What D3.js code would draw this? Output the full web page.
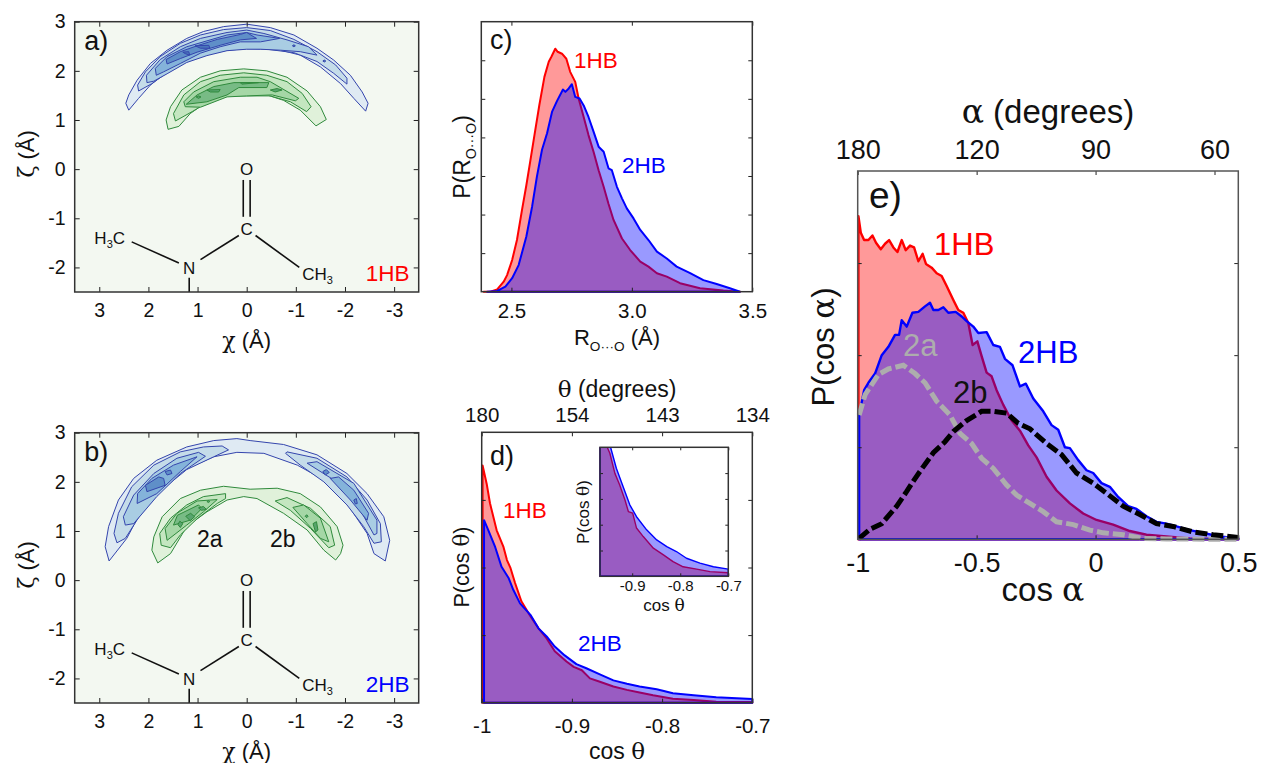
<!DOCTYPE html>
<html>
<head>
<meta charset="utf-8">
<script src="https://cdnjs.cloudflare.com/ajax/libs/d3/7.8.5/d3.min.js"></script>
<style>
body { margin: 0; background: #fff; }
svg { display: block; }
text { font-family: "Liberation Sans", Arial, sans-serif; fill: #111; }
.gr { font-family: "DejaVu Serif", "Liberation Serif", serif; }
</style>
</head>
<body>
<svg id="chart" width="1262" height="763"></svg>
<script>
// contour levels, [chi, zeta] in angstrom, outer level first
const a1Blue1 = [[2.40,1.20],[2.46,1.34],[2.40,1.51],[2.23,1.81],[1.96,2.15],[1.62,2.42],[1.22,2.66],[.88,2.80],[.47,2.90],[0,2.95],[-.48,2.88],[-.96,2.73],[-1.43,2.46],[-1.77,2.22],[-2.11,1.91],[-2.35,1.57],[-2.47,1.34],[-2.42,1.18],[-2.18,1.44],[-1.91,1.74],[-1.50,2.08],[-1.09,2.32],[-.69,2.42],[-.28,2.47],[0,2.47],[.40,2.44],[.81,2.35],[1.22,2.22],[1.62,1.98],[1.96,1.71],[2.20,1.44]];
const a1Blue2 = [[2.20,1.59],[2.22,1.71],[2.06,1.98],[1.76,2.29],[1.35,2.56],[.94,2.73],[.47,2.84],[0,2.88],[-.48,2.82],[-.96,2.64],[-1.43,2.39],[-1.81,2.12],[-2.04,1.85],[-2.04,1.73],[-1.77,1.95],[-1.43,2.19],[-.96,2.37],[-.41,2.44],[0,2.45],[.40,2.42],[.81,2.33],[1.22,2.19],[1.62,1.96],[1.93,1.74]];
const a1Blue3 = [[2.03,1.76],[2.04,1.91],[1.76,2.23],[1.35,2.49],[.94,2.66],[.40,2.78],[0,2.83],[-.35,2.76],[-.82,2.63],[-1.26,2.49],[-1.43,2.32],[-1.09,2.39],[-.69,2.42],[-.28,2.44],[0,2.44],[.40,2.41],[.81,2.31],[1.22,2.17],[1.62,1.94],[1.89,1.79]];
const a1Blue4 = [[1.84,1.91],[1.86,2.05],[1.62,2.29],[1.22,2.49],[.81,2.61],[.40,2.73],[0,2.78],[-.21,2.73],[-.67,2.66],[-.28,2.59],[.13,2.59],[.54,2.49],[.94,2.36],[1.35,2.15],[1.69,1.98]];
const a1Blue5 = [[1.62,2.14],[1.64,2.23],[1.35,2.39],[1.01,2.51],[.60,2.64],[.13,2.74],[0,2.78],[-.20,2.66],[.13,2.63],[.54,2.52],[1.01,2.38],[1.35,2.25]];
const a1Blue6a = [[1.30,2.38],[1.18,2.39],[1.16,2.32],[1.25,2.35]];
const a1Blue6b = [[1.05,2.51],[.77,2.52],[.75,2.46],[.94,2.46]];
const a1Blue6c = [[-.93,2.51],[-.96,2.53],[-.99,2.51],[-.96,2.49]];
const a1Blue6d = [[-1.55,2.20],[-1.58,2.22],[-1.61,2.20],[-1.58,2.18]];

const a1Green1 = [[1.60,.81],[1.64,1.00],[1.55,1.27],[1.32,1.61],[.94,1.87],[.54,2.00],[.06,2.04],[-.41,2.00],[-.82,1.87],[-1.23,1.59],[-1.50,1.27],[-1.62,1.01],[-1.41,.88],[-1.09,1.20],[-.75,1.40],[-.41,1.51],[0,1.51],[.40,1.51],[.81,1.37],[1.15,1.13],[1.38,.87]];
const a1Green2 = [[1.45,.98],[1.49,1.13],[1.28,1.51],[.94,1.78],[.54,1.91],[.06,1.96],[-.41,1.91],[-.82,1.78],[-1.13,1.54],[-1.31,1.27],[-1.22,1.17],[-.89,1.37],[-.48,1.49],[0,1.49],[.40,1.49],[.81,1.35],[1.11,1.17]];
const a1Green3 = [[1.25,1.27],[1.28,1.37],[1.08,1.57],[.67,1.78],[.13,1.87],[-.21,1.87],[-.48,1.78],[-1.06,1.44],[-.99,1.39],[-.52,1.51],[0,1.49],[.40,1.47],[.94,1.26]];
const a1Green4 = [[1.23,1.32],[1.01,1.51],[.67,1.68],[.26,1.76],[-.45,1.76],[-.41,1.66],[.16,1.66],[.40,1.51],[.81,1.37]];
const a1Green5a = [[1.03,1.47],[.98,1.49],[.93,1.47],[.98,1.44]];
const a1Green5b = [[.81,1.61],[.54,1.62],[.57,1.57],[.74,1.57]];
const a1Green5c = [[.13,1.76],[-.24,1.76],[.10,1.73]];
const a1Green5d = [[-.48,1.61],[-.62,1.64],[-.72,1.61],[-.58,1.57]];

const b2Blue1 = [[2.80,.39],[2.88,.68],[2.81,1.09],[2.61,1.63],[2.30,2.07],[1.83,2.44],[1.22,2.71],[.67,2.84],[.20,2.88],[-.07,2.84],[-.75,2.76],[-1.43,2.55],[-2.04,2.17],[-2.45,1.76],[-2.79,1.29],[-2.91,.81],[-2.82,.39],[-2.59,.54],[-2.45,.95],[-2.04,1.56],[-1.57,2.04],[-1.03,2.34],[-.35,2.58],[.20,2.60],[.67,2.51],[1.22,2.27],[1.76,1.83],[2.17,1.36],[2.44,.85]];
const b2Blue2L = [[2.64,.76],[2.70,.95],[2.61,1.36],[2.34,1.90],[1.89,2.34],[1.35,2.61],[.88,2.71],[.50,2.73],[.37,2.65],[.67,2.51],[1.22,2.25],[1.76,1.81],[2.17,1.32],[2.47,.85]];
const b2Blue2R = [[-.79,2.58],[-.82,2.61],[-1.43,2.48],[-2.04,2.10],[-2.45,1.63],[-2.72,1.15],[-2.74,.78],[-2.59,.75],[-2.38,1.09],[-2.04,1.53],[-1.57,2.00],[-1.09,2.34]];
const b2Blue3L = [[2.47,1.12],[2.51,1.29],[2.30,1.73],[1.89,2.17],[1.42,2.48],[.98,2.60],[.84,2.52],[1.35,2.17],[1.83,1.70],[2.30,1.15]];
const b2Blue3R = [[-1.23,2.38],[-1.43,2.41],[-2.18,1.97],[-2.65,1.22],[-2.65,.95],[-2.59,.92],[-2.31,1.43],[-1.77,2.04]];
const b2Blue4L = [[2.23,1.56],[2.22,1.76],[1.93,2.07],[1.49,2.34],[1.01,2.51],[1.35,2.21],[1.83,1.76]];
const b2Blue4R = [[-1.70,2.07],[-1.87,2.10],[-2.18,1.83],[-2.48,1.36],[-2.45,1.22],[-2.11,1.63]];
const b2Blue5a = [[2.03,1.80],[2.06,1.93],[1.79,2.10],[1.69,2.07],[1.66,1.93]];
const b2Blue5b = [[1.66,2.21],[1.55,2.24],[1.52,2.17],[1.62,2.14]];
const b2Blue5c = [[-1.55,2.21],[-1.62,2.25],[-1.68,2.19],[-1.60,2.14]];
const b2Blue5d = [[-2.18,1.63],[-2.23,1.66],[-2.25,1.56],[-2.21,1.55]];

const b2Green1 = [[1.81,.35],[1.93,.61],[1.89,.88],[1.72,1.29],[1.35,1.66],[.94,1.83],[.47,1.91],[-.07,1.85],[-.62,1.87],[-1.09,1.76],[-1.50,1.49],[-1.84,1.09],[-1.96,.71],[-1.91,.54],[-1.81,.41],[-1.57,.61],[-1.23,1.02],[-.75,1.36],[-.21,1.66],[.06,1.70],[.40,1.63],[.81,1.39],[1.22,1.09],[1.55,.54]];
const b2Green2L = [[1.74,.71],[1.77,.95],[1.55,1.26],[1.22,1.53],[.88,1.70],[.43,1.76],[.43,1.66],[.60,1.56],[1.01,1.25],[1.35,.92],[1.55,.66]];
const b2Green2R = [[-.58,1.61],[-.82,1.68],[-1.30,1.46],[-1.70,1.09],[-1.79,.71],[-1.67,.66],[-1.30,1.05],[-.89,1.42]];
const b2Green3L = [[1.62,.81],[1.66,1.05],[1.42,1.36],[1.01,1.61],[.60,1.64],[.88,1.39],[1.22,1.12]];
const b2Green3R = [[-.94,1.48],[-1.16,1.53],[-1.50,1.26],[-1.67,.78],[-1.50,.85],[-1.23,1.15]];
const b2Green4L = [[1.49,1.12],[1.41,1.32],[.98,1.53],[.91,1.46],[1.15,1.22]];
const b2Green5a = [[1.40,1.13],[1.36,1.20],[1.30,1.15],[1.35,1.07]];
const b2Green5b = [[1.24,1.30],[1.14,1.36],[1.06,1.29],[1.15,1.21]];
const b2Green5c = [[.98,1.47],[.88,1.50],[.82,1.44],[.92,1.42]];
const b2Green5d = [[.81,1.60],[.78,1.62],[.75,1.60],[.78,1.58]];
const b2Green5e = [[-1.19,1.30],[-1.22,1.33],[-1.25,1.30],[-1.22,1.27]];
const b2Green5f = [[-1.35,1.15],[-1.42,1.19],[-1.45,1.02],[-1.40,.98]];

// N-methylacetamide drawing, same in both contour panels
const bondSegments = [[[.07,-.22],[.07,-.97]],[[-.07,-.22],[-.07,-.97]],[[2.34,-1.48],[1.38,-1.91]],[[.94,-1.84],[.16,-1.35]],[[-.18,-1.35],[-1.07,-2.0]],[[1.17,-2.21],[1.17,-2.5]]];

// panel c, R(O...O) distributions
const rooR1HB = [2.385,2.413,2.441,2.468,2.482,2.503,2.523,2.544,2.562,2.579,2.599,2.616,2.637,2.655,2.666,2.682,2.692,2.710,2.728,2.744,2.765,2.779,2.800,2.820,2.841,2.862,2.883,2.903,2.924,2.959,2.993,3.035,3.069,3.104,3.145,3.200,3.283,3.380,3.449];
const rooP1HB = [0,0,.06,.26,.43,.82,1.34,2.12,2.76,3.41,4.19,4.84,5.57,5.96,6.09,6.30,6.22,6.17,6.04,5.70,5.44,5.01,4.53,4.06,3.63,3.15,2.72,2.28,1.86,1.38,1.08,.78,.65,.48,.39,.22,.09,.03,0];
const rooR2HB = [2.399,2.441,2.475,2.503,2.530,2.562,2.586,2.606,2.627,2.648,2.669,2.689,2.714,2.724,2.738,2.751,2.765,2.783,2.800,2.820,2.841,2.862,2.883,2.903,2.917,2.938,2.959,2.979,3.007,3.035,3.069,3.104,3.145,3.186,3.242,3.297,3.352,3.407,3.449];
const rooP2HB = [0,.02,.13,.35,.69,1.43,2.21,2.99,3.68,4.11,4.67,4.94,5.24,5.18,5.27,5.38,5.05,5.01,4.83,4.53,4.15,3.76,3.63,3.20,3.15,2.72,2.42,2.16,1.90,1.60,1.34,1.04,.86,.65,.48,.30,.20,.09,0];
const rooTicks = [2.5, 3.0, 3.5];

// panel d, cos theta distributions
const thetaX1HB = [-.999,-.9945,-.9908,-.9834,-.976,-.972,-.968,-.963,-.956,-.946,-.937,-.928,-.919,-.906,-.898,-.889,-.880,-.869,-.854,-.839,-.825,-.810,-.788,-.765,-.740,-.700];
const thetaP1HB = [3.51,3.24,2.95,2.55,2.31,2.11,1.99,1.77,1.50,1.28,1.10,.95,.76,.61,.53,.48,.36,.31,.24,.19,.15,.11,.06,.04,.015,.01];
const thetaX2HB = [-.9974,-.9926,-.985,-.978,-.970,-.965,-.9575,-.946,-.937,-.928,-.919,-.908,-.895,-.884,-.869,-.854,-.839,-.825,-.806,-.788,-.765,-.740,-.700];
const thetaP2HB = [2.70,2.55,2.30,2.01,1.84,1.67,1.47,1.30,1.10,.98,.83,.70,.57,.51,.42,.33,.28,.24,.20,.14,.11,.08,.055];
const thetaTicks = [-1, -.9, -.8, -.7];
const thetaTickLabels = ['-1', '-0.9', '-0.8', '-0.7'];
const thetaDegLabels = ['180', '154', '143', '134'];

// inset of panel d
const insetX1HB = [-.967,-.952,-.9465,-.936,-.926,-.915,-.908,-.899,-.891,-.877,-.856,-.835,-.815,-.794,-.766,-.738,-.700];
const insetP1HB = [7,5,4.77,3.99,3.54,2.96,2.51,2.45,1.87,1.54,1.09,.83,.57,.37,.28,.18,.14];
const insetX2HB = [-.967,-.945,-.933,-.919,-.905,-.891,-.870,-.849,-.828,-.808,-.787,-.759,-.731,-.700];
const insetP2HB = [7,5,4.19,3.48,2.77,2.31,1.80,1.41,1.15,.96,.70,.51,.37,.28];
const insetTicks = [-.9, -.8, -.7];
const insetTickLabels = ['-0.9', '-0.8', '-0.7'];

// panel e, cos alpha distributions
const alphaX1HB = [-.997,-.987,-.973,-.955,-.938,-.923,-.903,-.885,-.868,-.850,-.833,-.815,-.798,-.780,-.763,-.745,-.727,-.713,-.689,-.668,-.647,-.626,-.598,-.577,-.556,-.535,-.517,-.497,-.479,-.458,-.437,-.416,-.388,-.353,-.318,-.283,-.248,-.206,-.164,-.108,-.052,.004,.074,.144,.214,.298,.396,.6];
const alphaP1HB = [3.51,3.33,3.25,3.25,3.30,3.22,3.15,3.21,3.25,3.17,3.12,3.25,3.14,3.19,3.17,3.02,3.10,2.99,2.95,2.89,2.86,2.75,2.60,2.49,2.46,2.35,2.11,2.15,1.99,1.81,1.77,1.62,1.46,1.29,1.18,1.02,.89,.68,.53,.39,.28,.21,.16,.09,.05,.03,.01,0];
const alphaX2HB = [-.994,-.973,-.955,-.927,-.899,-.871,-.843,-.826,-.815,-.794,-.770,-.745,-.717,-.696,-.682,-.661,-.640,-.619,-.588,-.563,-.542,-.514,-.493,-.458,-.430,-.402,-.381,-.349,-.318,-.293,-.262,-.220,-.185,-.157,-.129,-.108,-.073,-.038,-.010,.025,.060,.095,.137,.172,.214,.256,.298,.340,.396,.452,.522,.6];
const alphaP2HB = [1.35,1.62,1.70,1.80,2.00,2.09,2.22,2.22,2.38,2.31,2.46,2.47,2.53,2.57,2.49,2.49,2.52,2.46,2.47,2.42,2.37,2.31,2.24,2.25,2.11,2.09,1.96,1.89,1.66,1.69,1.53,1.39,1.24,1.19,1.00,.99,.86,.75,.72,.61,.57,.46,.36,.33,.25,.19,.17,.14,.10,.07,.03,.01];
const alphaX2a = [-.994,-.969,-.941,-.913,-.871,-.808,-.759,-.717,-.668,-.612,-.570,-.521,-.479,-.430,-.374,-.332,-.276,-.220,-.164,-.094,-.024,.032,.116,.200,.298,.6];
const alphaP2a = [1.35,1.57,1.68,1.79,1.85,1.89,1.80,1.70,1.50,1.35,1.15,1.04,.88,.77,.59,.48,.39,.30,.19,.16,.10,.07,.05,.01,.004,0];
const alphaX2b = [-.994,-.948,-.899,-.836,-.794,-.759,-.724,-.682,-.633,-.598,-.542,-.479,-.430,-.374,-.325,-.276,-.206,-.143,-.080,-.010,.046,.116,.186,.256,.326,.410,.494,.6];
const alphaP2b = [.01,.11,.17,.36,.52,.66,.79,.94,1.06,1.17,1.29,1.39,1.39,1.37,1.26,1.20,1.04,.92,.72,.61,.50,.36,.27,.17,.14,.08,.05,.02];
const alphaTicks = [-1, -.5, 0, .6];
const alphaTickLabels = ['-1', '-0.5', '0', '0.5'];
const alphaDegTicks = [-1, -.5, 0, .5];
const alphaDegLabels = ['180', '120', '90', '60'];

const blueLevels = ['#dfeaf3', '#c5dce9', '#a9cde3', '#84b3da', '#5f8fc8', '#4a74bb'];
const greenLevels = ['#e0f1da', '#c4e6c0', '#a5d7a6', '#78bb85', '#58a46e', '#3f8c58'];
const redLine = '#ff0000', blueLine = '#0000ff';

const svg = d3.select('#chart');
let clipCount = 0;

function addText(parent, x, y, str, size, opts) {
    opts = opts || {};
    return parent.append('text')
        .attr('x', x).attr('y', y)
        .attr('font-size', size)
        .attr('text-anchor', opts.anchor || 'start')
        .style('fill', opts.color || '#111')
        .text(str);
}

// rotated or plain label made of pieces, greek glyphs use the serif face
function richLabel(cx, cy, pieces, size, rotate) {
    const t = svg.append('text')
        .attr('text-anchor', 'middle')
        .attr('font-size', size)
        .attr('transform', `translate(${cx},${cy})` + (rotate ? ' rotate(-90)' : ''));
    pieces.forEach(p => {
        const s = t.append('tspan').text(p.s);
        if (p.greek) s.attr('class', 'gr');
        if (p.sub) s.attr('font-size', size * 0.62).attr('dy', size * 0.25);
        if (p.up) s.attr('dy', -size * 0.25);
    });
    return t;
}

// frame, ticks on all sides, with optional labels
function drawFrame(box, x, y, o) {
    const g = svg.append('g');
    const w = box.x1 - box.x0, h = box.y1 - box.y0;
    const tick = o.tick || 4;
    const plain = d => String(d);
    const styleAxis = sel => {
        sel.select('.domain').remove();
        sel.selectAll('line').attr('stroke', '#222').attr('stroke-width', 1);
        sel.selectAll('text').style('font-family', '"Liberation Sans", Arial, sans-serif').attr('font-size', o.size).style('fill', '#111');
    };
    const bottom = d3.axisBottom(x).tickValues(o.xTicks).tickSizeInner(-tick).tickSizeOuter(0).tickPadding(o.padBottom).tickFormat(plain);
    if (o.xLabels) bottom.tickFormat((d, i) => o.xLabels[i]);
    g.append('g').attr('transform', `translate(0,${box.y1})`).call(bottom).call(styleAxis);
    const top = d3.axisTop(o.topX || x).tickValues(o.topTicks || o.xTicks).tickSizeInner(-tick).tickSizeOuter(0).tickPadding(o.padTop || 10);
    if (o.topLabels) top.tickFormat((d, i) => o.topLabels[i]); else top.tickFormat('');
    g.append('g').attr('transform', `translate(0,${box.y0})`).call(top).call(styleAxis);
    const left = d3.axisLeft(y).tickValues(o.yTicks).tickSizeInner(-tick).tickSizeOuter(0).tickPadding(9);
    left.tickFormat(o.yLabels ? plain : '');
    g.append('g').attr('transform', `translate(${box.x0},0)`).call(left).call(styleAxis);
    const right = d3.axisRight(y).tickValues(o.yTicks).tickSizeInner(-tick).tickSizeOuter(0).tickFormat('');
    g.append('g').attr('transform', `translate(${box.x1},0)`).call(right).call(styleAxis);
    g.append('rect')
        .attr('x', box.x0).attr('y', box.y0)
        .attr('width', w).attr('height', h)
        .attr('fill', 'none')
        .attr('stroke', o.frame || '#333')
        .attr('stroke-width', 1.5);
}

function contourPanel(box, blues, greens, tag, tagColor, letter) {
    const x = d3.scaleLinear().domain([3.5, -3.5]).range([box.x0, box.x1]);
    const y = d3.scaleLinear().domain([-2.5, 3]).range([box.y1, box.y0]);
    svg.append('rect')
        .attr('x', box.x0).attr('y', box.y0)
        .attr('width', box.x1 - box.x0).attr('height', box.y1 - box.y0)
        .attr('fill', '#f3f8f1');
    const poly = d3.line().x(d => x(d[0])).y(d => y(d[1])).curve(d3.curveLinearClosed);
    const drawSet = (set, colors, strokeColor) => {
        set.forEach(c => {
            svg.append('path')
                .attr('d', poly(c.pts))
                .attr('fill', colors[c.level])
                .attr('stroke', strokeColor)
                .attr('stroke-width', 1)
                .attr('stroke-linejoin', 'round');
        });
    };
    drawSet(blues, blueLevels, '#3445ad');
    drawSet(greens, greenLevels, '#2f8a3c');

    bondSegments.forEach(b => {
        svg.append('line')
            .attr('x1', x(b[0][0])).attr('y1', y(b[0][1]))
            .attr('x2', x(b[1][0])).attr('y2', y(b[1][1]))
            .attr('stroke', '#111').attr('stroke-width', 1.6);
    });
    addText(svg, x(0), y(-.12), 'O', 17, { anchor: 'middle' });
    addText(svg, x(0), y(-1.34), 'C', 17, { anchor: 'middle' });
    addText(svg, x(1.17), y(-2.13), 'N', 17, { anchor: 'middle' });
    const h3c = addText(svg, x(3.10), y(-1.53), 'H', 17);
    h3c.append('tspan').attr('font-size', 11).attr('dy', 4).text('3');
    h3c.append('tspan').attr('dy', -4).text('C');
    const ch3 = addText(svg, x(-1.13), y(-2.25), 'CH', 17);
    ch3.append('tspan').attr('font-size', 11).attr('dy', 4).text('3');

    drawFrame(box, x, y, {
        xTicks: [3, 2, 1, 0, -1, -2, -3],
        yTicks: [3, 2, 1, 0, -1, -2],
        yLabels: true,
        size: 19.5,
        padBottom: 11,
        tick: 5
    });
    addText(svg, box.x0 + 9.5, box.y0 + 28, letter, 27);
    addText(svg, box.x0 + 291, box.y1 - 11, tag, 22.5, { color: tagColor });

    richLabel((box.x0 + box.x1) / 2, box.y1 + 56, [{ s: 'χ', greek: true }, { s: ' (Å)' }], 22);
    richLabel(34, (box.y0 + box.y1) / 2 - 3, [{ s: 'ζ', greek: true }, { s: ' (Å)' }], 22, true);
}

// filled distribution with outline, opacity makes the purple overlap
function drawArea(parent, x, y, xs, ps, color, width, clipId) {
    const rows = xs.map((v, i) => [v, ps[i]]);
    const area = d3.area().x(d => x(d[0])).y0(y(0)).y1(d => y(d[1]));
    const p = parent.append('path')
        .attr('d', area(rows))
        .attr('fill', color)
        .attr('fill-opacity', 0.4)
        .attr('stroke', color)
        .attr('stroke-width', width)
        .attr('stroke-linejoin', 'round');
    if (clipId) p.attr('clip-path', `url(#${clipId})`);
}

function clipFor(box) {
    const id = 'clip' + (++clipCount);
    svg.append('clipPath').attr('id', id).append('rect')
        .attr('x', box.x0 - 1).attr('y', box.y0)
        .attr('width', box.x1 - box.x0 + 1).attr('height', box.y1 - box.y0 + 1);
    return id;
}

// a) and b)
contourPanel({ x0: 74.7, x1: 418.7, y0: 21.7, y1: 292 },
    [a1Blue1, a1Blue2, a1Blue3, a1Blue4, a1Blue5].map((pts, i) => ({ pts: pts, level: i }))
        .concat([a1Blue6a, a1Blue6b, a1Blue6c, a1Blue6d].map(pts => ({ pts: pts, level: 5 }))),
    [a1Green1, a1Green2, a1Green3, a1Green4].map((pts, i) => ({ pts: pts, level: i }))
        .concat([a1Green5a, a1Green5b, a1Green5c, a1Green5d].map(pts => ({ pts: pts, level: 4 }))),
    '1HB', redLine, 'a)');

contourPanel({ x0: 74.7, x1: 418.7, y0: 432.7, y1: 703 },
    [{ pts: b2Blue1, level: 0 }, { pts: b2Blue2L, level: 1 }, { pts: b2Blue2R, level: 1 },
     { pts: b2Blue3L, level: 2 }, { pts: b2Blue3R, level: 2 }, { pts: b2Blue4L, level: 3 }, { pts: b2Blue4R, level: 3 },
     { pts: b2Blue5a, level: 4 }, { pts: b2Blue5b, level: 4 }, { pts: b2Blue5c, level: 4 }, { pts: b2Blue5d, level: 4 }],
    [{ pts: b2Green1, level: 0 }, { pts: b2Green2L, level: 1 }, { pts: b2Green2R, level: 1 },
     { pts: b2Green3L, level: 2 }, { pts: b2Green3R, level: 2 }, { pts: b2Green4L, level: 3 },
     { pts: b2Green5a, level: 4 }, { pts: b2Green5b, level: 4 }, { pts: b2Green5c, level: 4 }, { pts: b2Green5d, level: 4 }, { pts: b2Green5e, level: 4 }, { pts: b2Green5f, level: 4 }],
    '2HB', blueLine, 'b)');
addText(svg, 197, 547, '2a', 23);
addText(svg, 270, 547, '2b', 23);

// c)
const boxC = { x0: 481.3, x1: 752.3, y0: 21.7, y1: 291.7 };
const xC = d3.scaleLinear().domain([2.375, 3.5]).range([boxC.x0, boxC.x1]);
const yC = d3.scaleLinear().domain([0, 7]).range([boxC.y1, boxC.y0]);
drawArea(svg, xC, yC, rooR1HB, rooP1HB, redLine, 2);
drawArea(svg, xC, yC, rooR2HB, rooP2HB, blueLine, 2);
drawFrame(boxC, xC, yC, {
    xTicks: rooTicks, xLabels: ['2.5', '3.0', '3.5'],
    yTicks: d3.range(1, 7), size: 20.5, padBottom: 12
});
addText(svg, 490, 49, 'c)', 27);
addText(svg, 574, 68, '1HB', 22.5, { color: redLine });
addText(svg, 622, 173, '2HB', 22.5, { color: blueLine });
richLabel(617, 345, [{ s: 'R' }, { s: 'O···O', sub: true }, { s: ' (Å)', up: true }], 22);
richLabel(470, 157, [{ s: 'P(R' }, { s: 'O···O', sub: true }, { s: ')', up: true }], 23, true);

// d)
const boxD = { x0: 481.7, x1: 752.3, y0: 432.3, y1: 702.7 };
const xD = d3.scaleLinear().domain([-1, -.7]).range([boxD.x0, boxD.x1]);
const yD = d3.scaleLinear().domain([0, 4]).range([boxD.y1, boxD.y0]);
drawArea(svg, xD, yD, thetaX1HB, thetaP1HB, redLine, 2);
drawArea(svg, xD, yD, thetaX2HB, thetaP2HB, blueLine, 2);
drawFrame(boxD, xD, yD, {
    xTicks: thetaTicks, xLabels: thetaTickLabels, topLabels: thetaDegLabels,
    yTicks: [1, 2, 3], size: 20.5, padBottom: 16, padTop: 10
});
addText(svg, 490, 465, 'd)', 27);
addText(svg, 503, 518, '1HB', 22.5, { color: redLine });
addText(svg, 578, 651, '2HB', 22.5, { color: blueLine });
richLabel(617, 397, [{ s: 'θ', greek: true }, { s: ' (degrees)' }], 23);
richLabel(617, 759, [{ s: 'cos ' }, { s: 'θ', greek: true }], 23);
richLabel(469, 567, [{ s: 'P(cos ' }, { s: 'θ', greek: true }, { s: ')' }], 21.5, true);

// inset of d)
const boxI = { x0: 600, x1: 728.3, y0: 447.3, y1: 576.3 };
const xI = d3.scaleLinear().domain([-.967, -.7]).range([boxI.x0, boxI.x1]);
const yI = d3.scaleLinear().domain([0, 5]).range([boxI.y1, boxI.y0]);
const clipI = clipFor(boxI);
drawArea(svg, xI, yI, insetX1HB, insetP1HB, redLine, 1.4, clipI);
drawArea(svg, xI, yI, insetX2HB, insetP2HB, blueLine, 1.4, clipI);
drawFrame(boxI, xI, yI, {
    xTicks: insetTicks, xLabels: insetTickLabels,
    yTicks: [1, 2, 3, 4], size: 15, padBottom: 4, tick: 3
});
richLabel(664, 611, [{ s: 'cos ' }, { s: 'θ', greek: true }], 17);
richLabel(589, 512, [{ s: 'P(cos ' }, { s: 'θ', greek: true }, { s: ')' }], 17, true);

// e)
const boxE = { x0: 857.7, x1: 1238.3, y0: 171, y1: 539.3 };
const xE = d3.scaleLinear().domain([-1, .6]).range([boxE.x0, boxE.x1]);
const yE = d3.scaleLinear().domain([0, 4]).range([boxE.y1, boxE.y0]);
drawArea(svg, xE, yE, alphaX1HB, alphaP1HB, redLine, 2.4);
drawArea(svg, xE, yE, alphaX2HB, alphaP2HB, blueLine, 2.4);
const dashLine = d3.line().x(d => xE(d[0])).y(d => yE(d[1]));
svg.append('path')
    .attr('d', dashLine(alphaX2a.map((v, i) => [v, alphaP2a[i]])))
    .attr('fill', 'none').attr('stroke', '#adadad').attr('stroke-width', 5).attr('stroke-dasharray', '12,4');
svg.append('path')
    .attr('d', dashLine(alphaX2b.map((v, i) => [v, alphaP2b[i]])))
    .attr('fill', 'none').attr('stroke', '#000').attr('stroke-width', 5).attr('stroke-dasharray', '12,4');
drawFrame(boxE, xE, yE, {
    xTicks: alphaTicks, xLabels: alphaTickLabels,
    topTicks: alphaDegTicks, topLabels: alphaDegLabels,
    yTicks: [1, 2, 3], size: 27, padBottom: 14, padTop: 12, frame: '#555'
});
addText(svg, 869, 208, 'e)', 37);
addText(svg, 934, 255, '1HB', 31, { color: redLine });
addText(svg, 1018, 363, '2HB', 31, { color: blueLine });
addText(svg, 903, 356, '2a', 31, { color: '#adadad' });
addText(svg, 953, 403, '2b', 31);
richLabel(1048, 123, [{ s: 'α', greek: true }, { s: ' (degrees)' }], 33);
richLabel(1043, 601, [{ s: 'cos ' }, { s: 'α', greek: true }], 33);
richLabel(834, 347, [{ s: 'P(cos ' }, { s: 'α', greek: true }, { s: ')' }], 31, true);
</script>
</body>
</html>
